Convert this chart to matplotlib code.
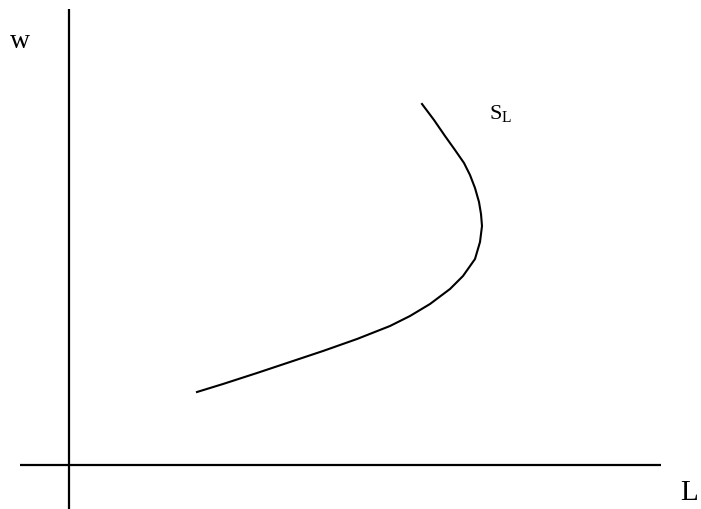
import matplotlib.pyplot as plt

# backward-bending labour supply curve (L, w), origin at axis crossing
supply_L = [128, 154, 188, 221, 254, 288, 321, 341, 361, 381, 394, 406, 411, 413,
            412, 410, 406, 401, 395, 386, 376, 365, 353]
supply_w = [73, 81, 92, 103, 114, 126, 139, 149, 161, 176, 189, 206, 223, 239,
            251, 263, 277, 290, 302, 315, 329, 345, 361]

axis_label_x = "L"
axis_label_y = "w"
curve_label = "S$_\\mathregular{L}$"

plt.rcParams['font.family'] = ['Liberation Serif', 'DejaVu Serif']

fig = plt.figure(figsize=(7.01, 5.10), dpi=100)
ax = fig.add_axes([0, 0, 1, 1])
ax.set_xlim(-69, 632)
ax.set_ylim(-44, 466)
ax.axis('off')

# axes lines
ax.plot([-49, 592], [0, 0], color='black', lw=1.6, solid_capstyle='butt')
ax.plot([0, 0], [-44, 456], color='black', lw=1.6, solid_capstyle='butt')

ax.plot(supply_L, supply_w, color='black', lw=1.5, solid_joinstyle='round')

ax.text(-49, 425, axis_label_y, fontsize=20, ha='center', va='center')
ax.text(620, -27, axis_label_x, fontsize=21, ha='center', va='center')
ax.text(432, 352, curve_label, fontsize=16, ha='center', va='center')

fig.savefig('out.png', dpi=100)
